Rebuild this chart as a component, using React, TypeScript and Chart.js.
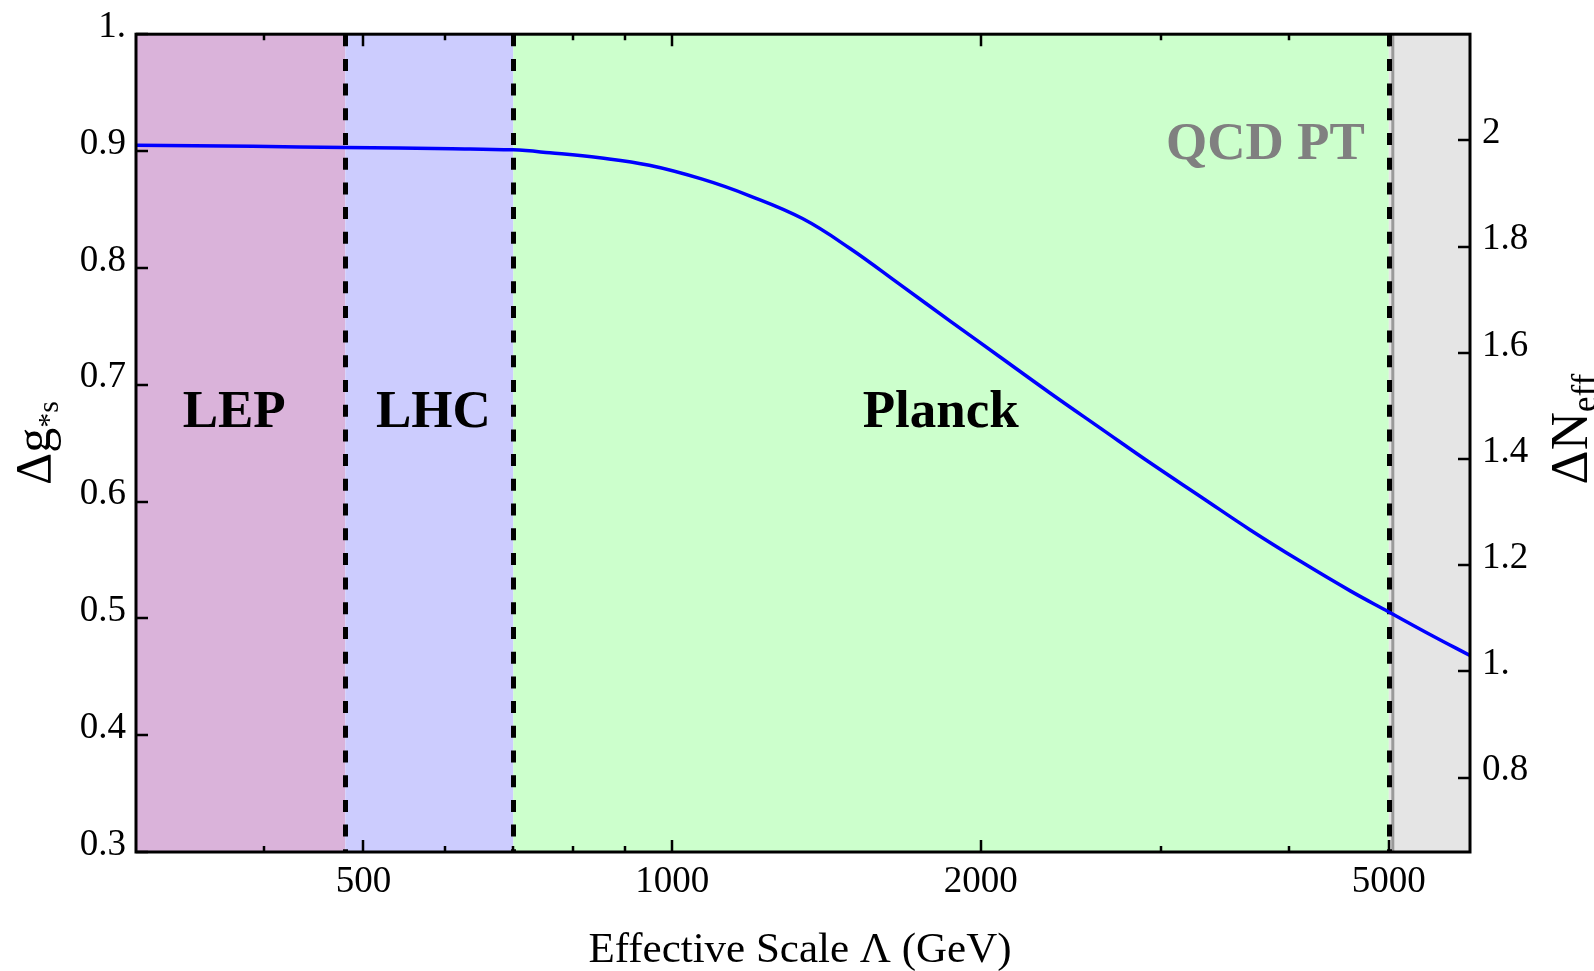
import React, { useEffect, useRef } from 'react';
import { Chart, registerables } from 'chart.js';

Chart.register(...registerables);

// ---- data ----
const LAMBDA_GEV = [300, 390, 480, 610, 700, 760, 850, 950, 1070, 1190, 1340, 1490, 1670, 1870, 2090, 2340, 2620, 2930, 3280, 3660, 4100, 4590, 5000, 5490, 6000];
const DELTA_G = [0.905, 0.904, 0.903, 0.902, 0.901, 0.8985, 0.8942, 0.8878, 0.8759, 0.8617, 0.8422, 0.8168, 0.7854, 0.754, 0.7235, 0.6925, 0.6624, 0.6327, 0.6039, 0.5759, 0.5488, 0.5233, 0.5055, 0.486, 0.4682];

const X_MAJOR_TICKS = [500, 1000, 2000, 5000];
const X_MINOR_TICKS = [400, 600, 700, 800, 900, 3000, 4000];
const Y_LEFT_TICKS = [0.3, 0.4, 0.5, 0.6, 0.7, 0.8, 0.9, 1.0];
const Y_LEFT_LABELS = ['0.3', '0.4', '0.5', '0.6', '0.7', '0.8', '0.9', '1.'];
const Y_RIGHT_TICKS = [0.8, 1.0, 1.2, 1.4, 1.6, 1.8, 2.0];
const Y_RIGHT_LABELS = ['0.8', '1.', '1.2', '1.4', '1.6', '1.8', '2'];

const REGION_NAMES = ['LEP', 'LHC', 'Planck', 'QCD PT'];
const REGION_FROM = [300, 480, 700, 5000];
const REGION_TO = [480, 700, 5000, 6000];
const REGION_COLORS = ['#DAB3DA', '#CCCCFE', '#CCFFCC', '#E5E5E5'];
const REGION_TEXT_COLORS = ['#000000', '#000000', '#000000', '#808080'];
const REGION_LABEL_X = [374, 585, 1828, 3790];
const REGION_LABEL_Y = [0.664, 0.664, 0.664, 0.8936];
const DASHED_AT = [480, 700, 5000];

const SERIF = '"Liberation Serif", "Times New Roman", serif';

function drawComposite(ctx: CanvasRenderingContext2D, main: string, sub: string, mainSize: number, subSize: number, subDrop: number) {
  ctx.font = `${mainSize}px ${SERIF}`;
  const wm = ctx.measureText(main).width;
  ctx.font = `${subSize}px ${SERIF}`;
  const ws = ctx.measureText(sub).width;
  const total = wm + ws;
  const x0 = -total / 2;
  ctx.textAlign = 'left';
  ctx.textBaseline = 'alphabetic';
  ctx.font = `${mainSize}px ${SERIF}`;
  ctx.fillText(main, x0, 0);
  ctx.font = `${subSize}px ${SERIF}`;
  ctx.fillText(sub, x0 + wm, subDrop);
}

const decorPlugin = {
  id: 'decor',
  beforeDatasetsDraw(chart: any) {
    const { ctx, chartArea: a, scales } = chart;
    const x = scales.x;
    const y = scales.y;
    ctx.save();
    REGION_FROM.forEach((lo, i) => {
      const x0 = x.getPixelForValue(lo);
      const x1 = x.getPixelForValue(REGION_TO[i]);
      ctx.fillStyle = REGION_COLORS[i];
      ctx.fillRect(x0, a.top, x1 - x0, a.bottom - a.top);
    });
    // gray edge of QCD region
    const xq = x.getPixelForValue(REGION_FROM[3]);
    ctx.strokeStyle = '#9A9A9A';
    ctx.lineWidth = 3;
    ctx.beginPath();
    ctx.moveTo(xq + 4, a.top);
    ctx.lineTo(xq + 4, a.bottom);
    ctx.stroke();
    // dashed boundaries
    ctx.setLineDash([12, 12.7]);
    ctx.strokeStyle = '#000000';
    ctx.lineWidth = 5;
    DASHED_AT.forEach((v) => {
      const px = Math.round(x.getPixelForValue(v)) + 0.5;
      ctx.beginPath();
      ctx.moveTo(px, a.top);
      ctx.lineTo(px, a.bottom);
      ctx.stroke();
    });
    ctx.setLineDash([]);
    // region labels
    ctx.font = `bold 53px ${SERIF}`;
    ctx.textAlign = 'center';
    ctx.textBaseline = 'alphabetic';
    REGION_NAMES.forEach((name, i) => {
      ctx.fillStyle = REGION_TEXT_COLORS[i];
      ctx.fillText(name, x.getPixelForValue(REGION_LABEL_X[i]), y.getPixelForValue(REGION_LABEL_Y[i]));
    });
    ctx.restore();
  },
  afterDraw(chart: any) {
    const { ctx, chartArea: a, scales } = chart;
    const x = scales.x;
    const y = scales.y;
    const y2 = scales.y2;
    ctx.save();
    ctx.strokeStyle = '#000000';
    ctx.lineWidth = 2.5;
    // x ticks (bottom and top, inward)
    const xt = [...X_MAJOR_TICKS.map((v) => [v, 12]), ...X_MINOR_TICKS.map((v) => [v, 6])];
    xt.forEach(([v, len]) => {
      const px = Math.round(x.getPixelForValue(v));
      ctx.beginPath();
      ctx.moveTo(px, a.bottom);
      ctx.lineTo(px, a.bottom - len);
      ctx.moveTo(px, a.top);
      ctx.lineTo(px, a.top + len);
      ctx.stroke();
    });
    Y_LEFT_TICKS.forEach((v) => {
      const py = Math.round(y.getPixelForValue(v));
      ctx.beginPath();
      ctx.moveTo(a.left, py);
      ctx.lineTo(a.left + 12, py);
      ctx.stroke();
    });
    Y_RIGHT_TICKS.forEach((v) => {
      const py = Math.round(y2.getPixelForValue(v));
      ctx.beginPath();
      ctx.moveTo(a.right, py);
      ctx.lineTo(a.right - 12, py);
      ctx.stroke();
    });
    // frame
    ctx.lineWidth = 3;
    ctx.strokeRect(a.left, a.top, a.right - a.left, a.bottom - a.top);

    // titles
    ctx.fillStyle = '#000000';
    ctx.font = `43px ${SERIF}`;
    ctx.textAlign = 'center';
    ctx.textBaseline = 'alphabetic';
    ctx.fillText('Effective Scale \u039B (GeV)', (a.left + a.right) / 2 - 3, a.bottom + 110);

    const midY = (a.top + a.bottom) / 2;
    ctx.save();
    ctx.translate(a.left - 86, midY);
    ctx.rotate(-Math.PI / 2);
    drawComposite(ctx, '\u0394g', '*s', 50, 30, 8);
    ctx.restore();

    ctx.save();
    ctx.translate(a.right + 117, midY - 14);
    ctx.rotate(-Math.PI / 2);
    drawComposite(ctx, '\u0394N', 'eff', 53, 35, 9);
    ctx.restore();

    ctx.restore();
  },
};

export default function App() {
  const canvasRef = useRef<HTMLCanvasElement | null>(null);

  useEffect(() => {
    document.body.style.margin = '0';
    const canvas = canvasRef.current;
    if (!canvas) return;
    const tickFont = { family: SERIF, size: 37 };
    const chart = new Chart(canvas, {
      type: 'line',
      data: {
        datasets: [
          {
            data: LAMBDA_GEV.map((v, i) => ({ x: v, y: DELTA_G[i] })),
            borderColor: '#0000FF',
            borderWidth: 3.5,
            pointRadius: 0,
            fill: false,
            tension: 0.4,
            yAxisID: 'y',
          },
        ],
      },
      options: {
        animation: false,
        responsive: true,
        maintainAspectRatio: false,
        layout: { padding: { top: 27, left: 0, right: 0, bottom: 0 } },
        plugins: { legend: { display: false }, tooltip: { enabled: false } },
        scales: {
          x: {
            type: 'logarithmic',
            position: 'bottom',
            min: 300,
            max: 6000,
            grid: { display: false, drawTicks: false, tickLength: 0 },
            border: { display: false },
            ticks: {
              autoSkip: false,
              maxRotation: 0,
              minRotation: 0,
              padding: 8,
              color: '#000000',
              font: tickFont,
              callback: (v: any) => (X_MAJOR_TICKS.includes(Number(v)) ? String(v) : ''),
            },
            afterBuildTicks: (s: any) => {
              s.ticks = [...X_MINOR_TICKS, ...X_MAJOR_TICKS].sort((p, q) => p - q).map((v) => ({ value: v }));
            },
            afterFit: (s: any) => {
              s.height = 119;
            },
          },
          y: {
            type: 'linear',
            position: 'left',
            min: 0.3,
            max: 1.0,
            grid: { display: false, drawTicks: false, tickLength: 0 },
            border: { display: false },
            ticks: {
              padding: 10,
              labelOffset: -7,
              color: '#000000',
              font: tickFont,
              callback: (_v: any, i: number) => Y_LEFT_LABELS[i],
            },
            afterBuildTicks: (s: any) => {
              s.ticks = Y_LEFT_TICKS.map((v) => ({ value: v }));
            },
            afterFit: (s: any) => {
              s.width = 136;
            },
          },
          y2: {
            type: 'linear',
            position: 'right',
            min: 0.66,
            max: 2.2,
            grid: { display: false, drawTicks: false, tickLength: 0 },
            border: { display: false },
            ticks: {
              padding: 12,
              labelOffset: -7,
              color: '#000000',
              font: tickFont,
              callback: (_v: any, i: number) => Y_RIGHT_LABELS[i],
            },
            afterBuildTicks: (s: any) => {
              s.ticks = Y_RIGHT_TICKS.map((v) => ({ value: v }));
            },
            afterFit: (s: any) => {
              s.width = 124;
            },
          },
        },
      },
      plugins: [decorPlugin],
    } as any);
    return () => chart.destroy();
  }, []);

  return (
    <div style={{ position: 'absolute', left: 0, top: 0, width: 1594, height: 971, background: '#ffffff' }}>
      <canvas ref={canvasRef} />
    </div>
  );
}
